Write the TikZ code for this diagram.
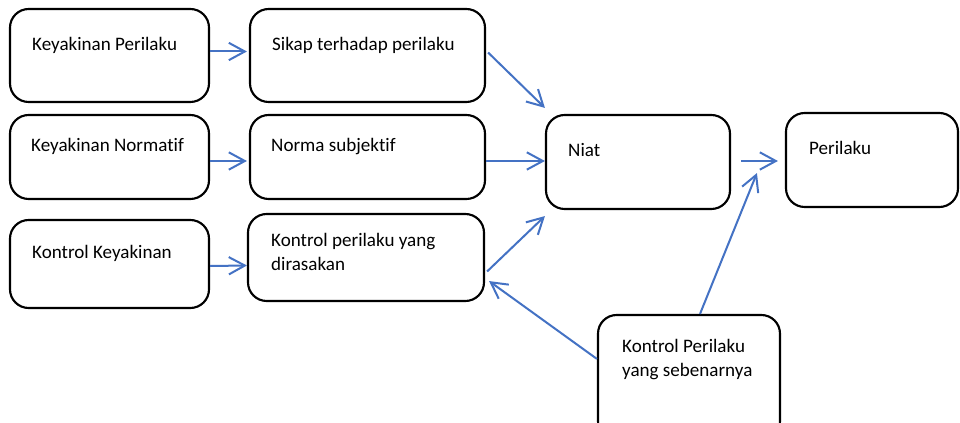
\documentclass[tikz,border=0pt]{standalone}
\usepackage{fontspec}
\setmainfont{Carlito}[Ligatures=NoCommon]
\usetikzlibrary{arrows.meta,fit,calc}
\definecolor{arrblue}{HTML}{4472C4}
\tikzset{
  box/.style={draw=black, line width=1.6pt, rounded corners=14pt, inner sep=0pt, fill=white},
  lbl/.style={anchor=base west, inner sep=0pt, font=\fontsize{14.3pt}{18pt}\selectfont, align=left},
  arr/.style={draw=arrblue, line width=1.5pt, -{Straight Barb[length=12pt, width=13pt, line width=1.5pt]}}
}
\begin{document}
\begin{tikzpicture}[x=0.75pt, y=-0.75pt]
\clip (0,0) rectangle (960,423);
\fill[white] (0,0) rectangle (960,423);
% boxes
\node[box, fit={(10,9) (209,102)}] (a) {};
\node[box, fit={(250,9) (485,102)}] (b) {};
\node[box, fit={(10,115) (209,199)}] (c) {};
\node[box, fit={(250,115) (485,199)}] (d) {};
\node[box, fit={(10,220) (209,308)}] (e) {};
\node[box, fit={(248,214) (484,301)}] (f) {};
\node[box, fit={(546,115) (730,209)}] (g) {};
\node[box, fit={(786,113) (958,207)}] (h) {};
\node[box, fit={(598,315) (780,440)}] (i) {};
% labels
\node[lbl] (ta) at ($(a.north west)+(23,43)$) {Keyakinan Perilaku};
\node[lbl] (tb) at ($(b.north west)+(23,43)$) {Sikap terhadap perilaku};
\node[lbl] (tc) at ($(c.north west)+(22,38)$) {Keyakinan Normatif};
\node[lbl] (td) at ($(d.north west)+(22,38)$) {Norma subjektif};
\node[lbl] (te) at ($(e.north west)+(23,40)$) {Kontrol Keyakinan};
\node[lbl] (tf) at ($(f.north west)+(24,58)$) {Kontrol perilaku yang\\dirasakan};
\node[lbl] (tg) at ($(g.north west)+(23,43)$) {Niat};
\node[lbl] (th) at ($(h.north west)+(24,43)$) {Perilaku};
\node[lbl] (ti) at ($(i.north west)+(25,63)$) {Kontrol Perilaku\\yang sebenarnya};
% arrows
\draw[arr] ($(a.east)+(0,-4)$) -- ($(b.west)+(-2,-4)$);
\draw[arr] ($(c.east)+(0,4)$) -- ($(d.west)+(-2,4)$);
\draw[arr] ($(e.east)+(0,2)$) -- ($(f.west)+(0,8)$);
\draw[arr] ($(b.east)+(2,-3)$) -- ($(g.north west)+(0,-6)$);
\draw[arr] ($(d.east)+(0,4)$) -- ($(g.west)+(0,-1)$);
\draw[arr] ($(f.east)+(2,14)$) -- ($(g.south west)+(0,6)$);
\draw[arr] ($(g.east)+(10,-1)$) -- ($(h.west)+(-7,1)$);
\draw[arr] ($(i.north)+(11,0)$) -- ($(h.south west)+(-28,-35)$);
\draw[arr] ($(i.north west)+(0,45)$) -- ($(f.south east)+(4,-21)$);
\end{tikzpicture}
\end{document}
